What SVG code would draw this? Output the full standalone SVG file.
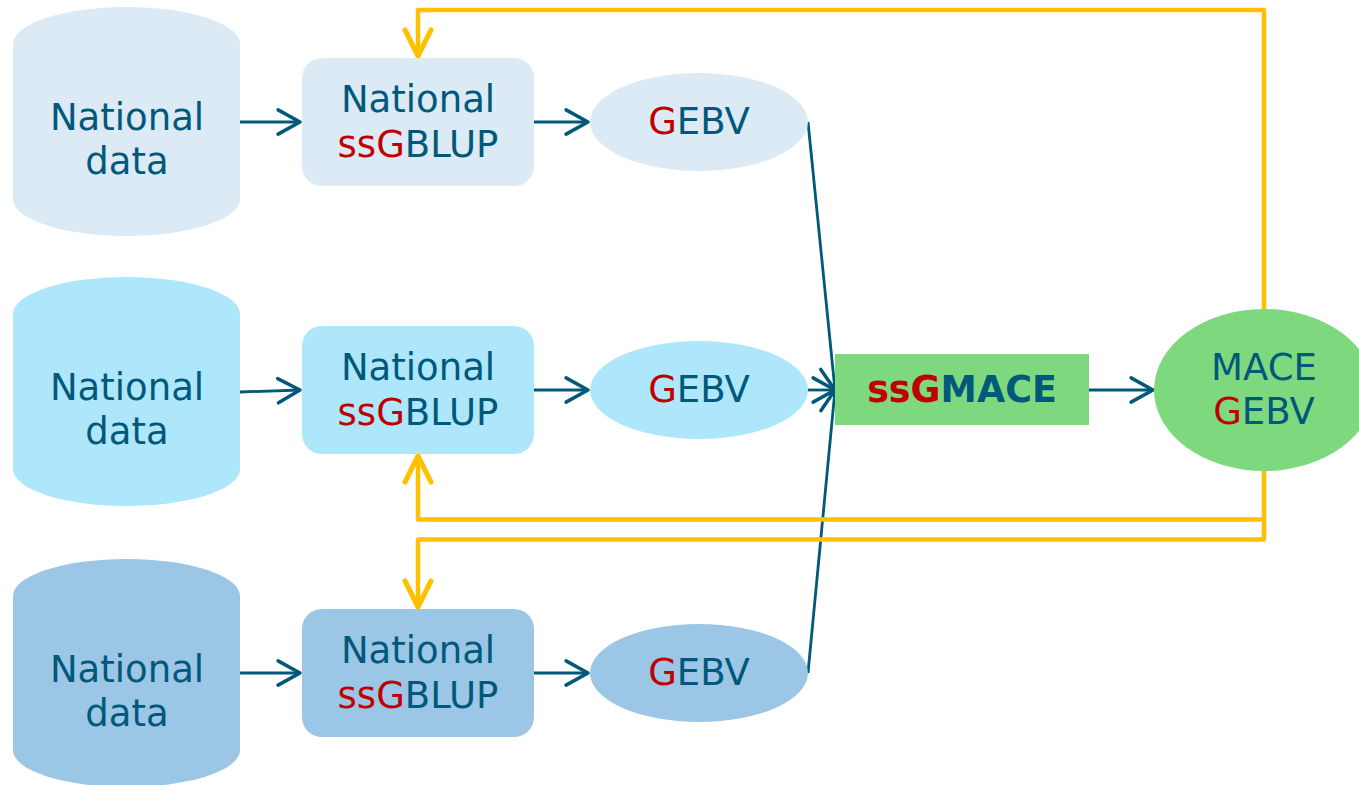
<svg xmlns="http://www.w3.org/2000/svg" width="1359" height="785" viewBox="0 0 1359 785">
  <defs>
    <style>
      .t { font-family: "DejaVu Sans", Verdana, sans-serif; font-size: 37px; fill: #00587a; text-anchor: middle; }
      .r { fill: #c00000; }
      .b { font-weight: bold; font-size: 36.5px; }
      .blue { stroke: #00587a; stroke-width: 2.8; fill: none; }
      .gold { stroke: #ffc000; stroke-width: 4.5; fill: none; stroke-linejoin: round; }
    </style>
    <marker id="arrowBlue" markerUnits="userSpaceOnUse" markerWidth="30" markerHeight="30" viewBox="-22 -13 26 26" refX="0" refY="0" orient="auto">
      <path d="M-19,-10.5 L0,0 L-19,10.5" fill="none" stroke="#00587a" stroke-width="3" stroke-linecap="round" stroke-linejoin="round"/>
    </marker>
    <marker id="arrowGold" markerUnits="userSpaceOnUse" markerWidth="34" markerHeight="34" viewBox="-27 -15 30 30" refX="0" refY="0" orient="auto">
      <path d="M-23,-11.5 L0,0 L-23,11.5" fill="none" stroke="#ffc000" stroke-width="4.5" stroke-linecap="round" stroke-linejoin="round"/>
    </marker>
  </defs>

  <rect width="1359" height="785" fill="#ffffff"/>

  <!-- connectors -->
  <g id="connectors">
    <!-- data to ssGBLUP -->
    <line class="blue" x1="240" y1="122" x2="300" y2="122" marker-end="url(#arrowBlue)"/>
    <line class="blue" x1="240" y1="392" x2="300" y2="390" marker-end="url(#arrowBlue)"/>
    <line class="blue" x1="240" y1="673" x2="300" y2="673" marker-end="url(#arrowBlue)"/>
    <!-- ssGBLUP to GEBV -->
    <line class="blue" x1="534" y1="122" x2="588" y2="122" marker-end="url(#arrowBlue)"/>
    <line class="blue" x1="534" y1="390" x2="588" y2="390" marker-end="url(#arrowBlue)"/>
    <line class="blue" x1="534" y1="673" x2="588" y2="673" marker-end="url(#arrowBlue)"/>
    <!-- GEBV to ssGMACE -->
    <line class="blue" x1="808" y1="122" x2="835" y2="390" marker-end="url(#arrowBlue)"/>
    <line class="blue" x1="808" y1="390" x2="835" y2="390" marker-end="url(#arrowBlue)"/>
    <line class="blue" x1="808" y1="673" x2="835" y2="390" marker-end="url(#arrowBlue)"/>
    <!-- ssGMACE to MACE GEBV -->
    <line class="blue" x1="1089" y1="390" x2="1153" y2="390" marker-end="url(#arrowBlue)"/>
    <!-- feedback loops -->
    <polyline class="gold" points="1264,309 1264,10 418,10 418,56" marker-end="url(#arrowGold)"/>
    <polyline class="gold" points="1264,471 1264,519.5 418,519.5 418,456" marker-end="url(#arrowGold)"/>
    <polyline class="gold" points="1264,519.5 1264,539.5 418,539.5 418,607" marker-end="url(#arrowGold)"/>
  </g>

  <!-- row 1 -->
  <g id="data1">
    <path d="M13,44 A113.5,37 0 0 1 240,44 V199 A113.5,37 0 0 1 13,199 Z" fill="#dbeaf5"/>
    <text class="t" x="127" y="130">National</text>
    <text class="t" x="127" y="174">data</text>
  </g>
  <g id="blup1">
    <rect x="302" y="58" width="232" height="128" rx="20" fill="#dbeaf5"/>
    <text class="t" x="418" y="112">National</text>
    <text class="t" x="418" y="157"><tspan class="r">ssG</tspan>BLUP</text>
  </g>
  <g id="gebv1">
    <ellipse cx="699" cy="122" rx="109" ry="49" fill="#dbeaf5"/>
    <text class="t" x="699" y="134"><tspan class="r">G</tspan>EBV</text>
  </g>

  <!-- row 2 -->
  <g id="data2">
    <path d="M13,314 A113.5,37 0 0 1 240,314 V469 A113.5,37 0 0 1 13,469 Z" fill="#aee6fc"/>
    <text class="t" x="127" y="400">National</text>
    <text class="t" x="127" y="444">data</text>
  </g>
  <g id="blup2">
    <rect x="302" y="326" width="232" height="128" rx="20" fill="#aee6fc"/>
    <text class="t" x="418" y="380">National</text>
    <text class="t" x="418" y="425"><tspan class="r">ssG</tspan>BLUP</text>
  </g>
  <g id="gebv2">
    <ellipse cx="699" cy="390" rx="109" ry="49" fill="#aee6fc"/>
    <text class="t" x="699" y="402"><tspan class="r">G</tspan>EBV</text>
  </g>

  <!-- row 3 -->
  <g id="data3">
    <path d="M13,596 A113.5,37 0 0 1 240,596 V750 A113.5,37 0 0 1 13,750 Z" fill="#9bc6e6"/>
    <text class="t" x="127" y="682">National</text>
    <text class="t" x="127" y="726">data</text>
  </g>
  <g id="blup3">
    <rect x="302" y="609" width="232" height="128" rx="20" fill="#9bc6e6"/>
    <text class="t" x="418" y="663">National</text>
    <text class="t" x="418" y="708"><tspan class="r">ssG</tspan>BLUP</text>
  </g>
  <g id="gebv3">
    <ellipse cx="699" cy="673" rx="109" ry="49" fill="#9bc6e6"/>
    <text class="t" x="699" y="685"><tspan class="r">G</tspan>EBV</text>
  </g>

  <!-- international evaluation -->
  <g id="ssgmace">
    <rect x="835" y="354" width="254" height="71" fill="#7ed87e"/>
    <text class="t b" x="962" y="402"><tspan class="r">ssG</tspan>MACE</text>
  </g>
  <g id="mace">
    <ellipse cx="1264" cy="390" rx="110" ry="81" fill="#7ed87e"/>
    <text class="t" x="1264" y="380">MACE</text>
    <text class="t" x="1264" y="424"><tspan class="r">G</tspan>EBV</text>
  </g>
</svg>
